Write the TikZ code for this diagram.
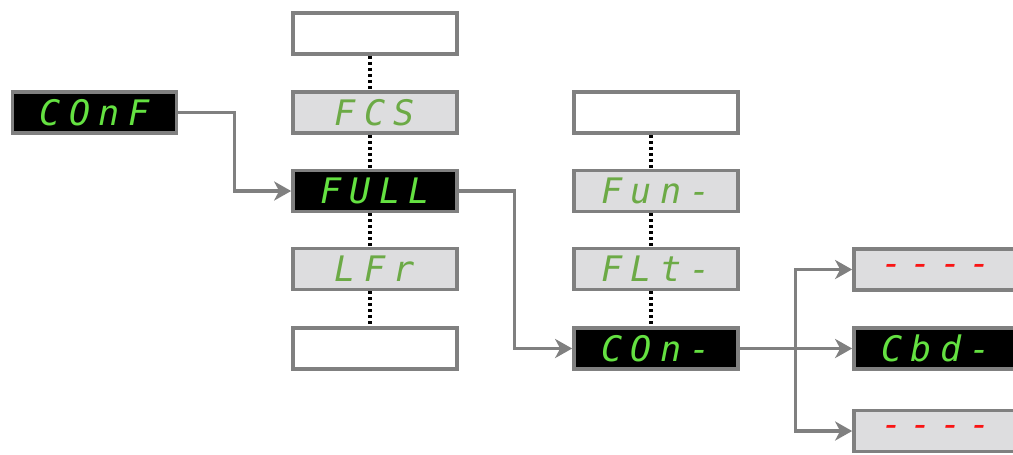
\documentclass[tikz,border=0pt]{standalone}
\usepackage{fontspec}
\usetikzlibrary{arrows.meta}
\newfontfamily\segfont[LetterSpace=24]{DejaVu Sans Mono}
\definecolor{boxgray}{RGB}{128,128,128}
\definecolor{panelgray}{RGB}{221,221,223}
\definecolor{litgreen}{RGB}{100,225,65}
\definecolor{dimgreen}{RGB}{108,170,70}
\definecolor{segred}{RGB}{250,20,20}
\tikzset{
  menubox/.style={draw=boxgray,line width=0.075cm,minimum width=3.28cm,minimum height=0.82cm,
    inner sep=0pt,font=\segfont\itshape\fontsize{20}{20}\selectfont},
  lit/.style={menubox,fill=black,text=litgreen},
  dim/.style={menubox,fill=panelgray,text=dimgreen},
  blank/.style={menubox,fill=white},
  link/.style={draw=boxgray,line width=0.065cm,-{Stealth[length=0.34cm,width=0.38cm,inset=0.1cm]}},
  dots/.style={black,line width=0.07cm,dash pattern=on 0.06cm off 0.06cm}
}
\begin{document}
\begin{tikzpicture}[x=0.02cm,y=-0.02cm,line join=miter]
        \clip (0,0) rectangle (1013,454);
        \fill[white] (0,0) rectangle (1013,454);
        % first level
        \node[lit] (conf) at (94.5,112.5) {COnF};
        % second level
        \node[blank] (top1) at (375,33.5) {};
        \node[dim] (fcs) at (375,112.5) {FCS};
        \node[lit] (full) at (375,191) {FULL};
        \node[dim] (lfr) at (375,269) {LFr};
        \node[blank] (bot1) at (375,348.5) {};
        % third level
        \node[blank] (top2) at (656,112.5) {};
        \node[dim] (fun) at (656,191) {Fun-};
        \node[dim] (flt) at (656,269) {FLt-};
        \node[lit] (con) at (656,348.5) {COn-};
        % fourth level
        \node[dim,text=segred] (dasha) at (936,269.5) {----};
        \node[lit] (cbd) at (936,348.5) {Cbd-};
        \node[dim,text=segred] (dashb) at (936,431) {----};
        % scrolling lists
        \foreach \a/\b in {top1/fcs,fcs/full,full/lfr,lfr/bot1,top2/fun,fun/flt,flt/con}
            \draw[dots] ([xshift=-0.1cm]\a.south) -- ([xshift=-0.1cm]\b.north);
        % menu links
        \draw[link] (conf.east) -- ++(56,0) |- (full.west);
        \draw[link] (full.east) -- ++(56,0) |- (con.west);
        \draw[link] (con.east) -- ++(56,0) coordinate (fork) |- (dasha.west);
        \draw[link] (fork) -- (cbd.west);
        \draw[link] (fork) |- (dashb.west);
    \end{tikzpicture}
\end{document}
